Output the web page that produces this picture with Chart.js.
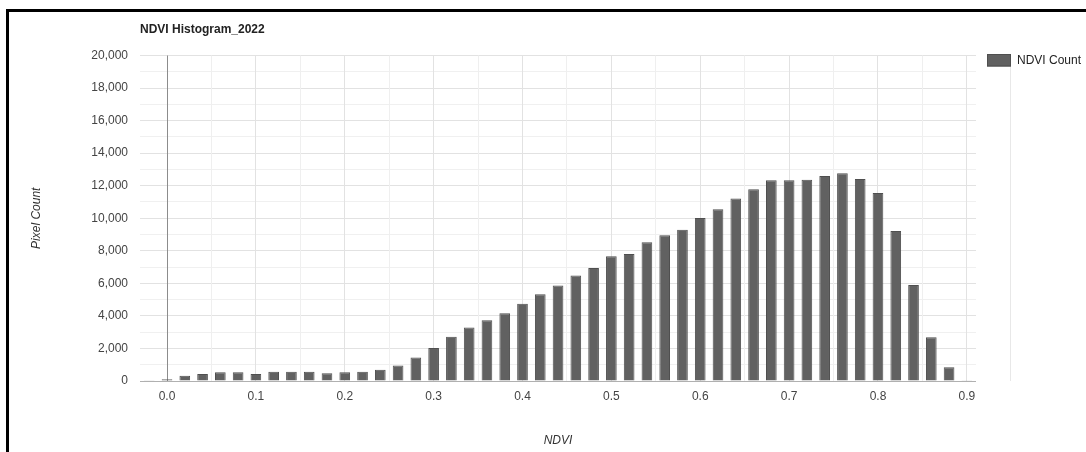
<!DOCTYPE html>
<html>
<head>
<meta charset="utf-8">
<title>NDVI Histogram_2022</title>
<script src="https://cdn.jsdelivr.net/npm/chart.js@4/dist/chart.umd.min.js"></script>
<style>
  html, body { margin: 0; padding: 0; background: #fff; }
  #wrap { position: relative; width: 1086px; height: 452px; overflow: hidden; }
  #wrap canvas { position: absolute; left: 0; top: 0; }
  #frame { position: absolute; left: 6px; top: 9px; right: -10px; bottom: -10px;
           border-left: 3px solid #000; border-top: 3px solid #000; pointer-events: none; }
</style>
</head>
<body>
<div id="wrap">
  <canvas id="chart" width="1086" height="452"></canvas>
  <div id="frame"></div>
</div>
<script>
// NDVI bin positions (bin value) and pixel counts per bin
const ndviBins = [
  -0.02, 0.00, 0.02, 0.04, 0.06, 0.08, 0.10, 0.12, 0.14, 0.16,
   0.18, 0.20, 0.22, 0.24, 0.26, 0.28, 0.30, 0.32, 0.34, 0.36,
   0.38, 0.40, 0.42, 0.44, 0.46, 0.48, 0.50, 0.52, 0.54, 0.56,
   0.58, 0.60, 0.62, 0.64, 0.66, 0.68, 0.70, 0.72, 0.74, 0.76,
   0.78, 0.80, 0.82, 0.84, 0.86, 0.88, 0.90
];
const pixelCounts = [
     40,   110,   330,   430,   530,   530,   430,   570,   570,   570,
    470,   530,   570,   690,   960,  1440,  2030,  2720,  3290,  3740,
   4170,  4750,  5330,  5870,  6490,  6950,  7670,  7800,  8520,  8950,
   9300, 10010, 10550, 11220, 11780, 12330, 12330, 12370, 12600, 12760,
  12410, 11550,  9220,  5900,  2690,   840,    40
];

// Axis grid positions: labelled every 0.1, minor lines halfway
const ndviTicks = [0.0, 0.05, 0.1, 0.15, 0.2, 0.25, 0.3, 0.35, 0.4, 0.45,
                   0.5, 0.55, 0.6, 0.65, 0.7, 0.75, 0.8, 0.85, 0.9];
const countMin = 0;
const countMax = 20000;
const countStep = 1000;

const seriesLabel = 'NDVI Count';
const chartTitle = 'NDVI Histogram_2022';

const FONT = '"Liberation Sans", Arial, Helvetica, sans-serif';
Chart.defaults.font.family = FONT;
Chart.defaults.font.size = 12;

const isTenth = v => Math.abs(v * 10 - Math.round(v * 10)) < 1e-6;

// Legend entry drawn to the right of the plot area
const sideLegend = {
  id: 'sideLegend',
  afterDraw(chart) {
    const { ctx, chartArea } = chart;
    const ds = chart.data.datasets[0];
    const x = chartArea.right + 11;
    const y = chartArea.top - 1.5;
    ctx.save();
    ctx.strokeStyle = '#e8e8e8';
    ctx.lineWidth = 1;
    ctx.beginPath();
    ctx.moveTo(x + 23.5, y + 12);
    ctx.lineTo(x + 23.5, chartArea.bottom);
    ctx.stroke();
    ctx.fillStyle = ds.backgroundColor;
    ctx.fillRect(x, y, 24, 12.5);
    ctx.strokeStyle = ds.borderColor;
    ctx.strokeRect(x + 0.5, y + 0.5, 23, 11.5);
    ctx.fillStyle = '#222';
    ctx.font = '12px ' + FONT;
    ctx.textBaseline = 'middle';
    ctx.textAlign = 'left';
    ctx.fillText(ds.label, x + 30, y + 6.5);
    ctx.restore();
  }
};

new Chart(document.getElementById('chart'), {
  type: 'bar',
  data: {
    datasets: [{
      label: seriesLabel,
      data: ndviBins.map((x, i) => ({ x: x, y: pixelCounts[i] })),
      backgroundColor: '#616161',
      borderColor: '#4f4f4f',
      borderWidth: 1,
      barPercentage: 0.6,
      categoryPercentage: 1.0
    }]
  },
  options: {
    responsive: false,
    animation: false,
    layout: { padding: { left: 20, right: 110, top: 10, bottom: 0 } },
    plugins: {
      legend: { display: false },
      tooltip: { enabled: false },
      title: {
        display: true,
        text: chartTitle,
        align: 'start',
        fullSize: false,
        color: '#222',
        font: { size: 12, weight: 'bold' },
        padding: { top: 12.3, bottom: 18.8 }
      }
    },
    scales: {
      x: {
        type: 'linear',
        offset: false,
        min: -0.0304,
        max: 0.9103,
        afterBuildTicks(scale) {
          scale.ticks = ndviTicks.map(v => ({ value: v }));
        },
        afterFit(scale) { scale.height = 71; },
        ticks: {
          autoSkip: false,
          maxRotation: 0,
          padding: 8.5,
          color: '#444',
          font: { size: 12 },
          callback: v => (isTenth(v) ? v.toFixed(1) : '')
        },
        grid: {
          z: -1,
          offset: false,
          drawTicks: false,
          lineWidth: 1,
          color: c => {
            const v = c.tick ? c.tick.value : null;
            if (v === null) return 'transparent';
            if (Math.abs(v) < 1e-9) return '#8c8c8c';
            return isTenth(v) ? '#e2e2e2' : '#efefef';
          }
        },
        border: { display: false },
        title: {
          display: true,
          text: 'NDVI',
          color: '#333',
          font: { size: 12, style: 'italic' },
          padding: { top: 0, bottom: 3.8 }
        }
      },
      y: {
        min: countMin,
        max: countMax,
        afterFit(scale) { scale.width = 120; },
        ticks: {
          stepSize: countStep,
          autoSkip: false,
          padding: 12,
          color: '#444',
          font: { size: 12 },
          callback: v => (v % 2000 === 0 ? v.toLocaleString('en-US') : '')
        },
        grid: {
          z: -2,
          drawTicks: false,
          lineWidth: 1,
          color: c => {
            const v = c.tick ? c.tick.value : null;
            if (v === null) return 'transparent';
            if (v === 0) return '#b0b0b0';
            return v % 2000 === 0 ? '#e2e2e2' : '#f0f0f0';
          }
        },
        border: { display: false },
        title: {
          display: true,
          text: 'Pixel Count',
          color: '#333',
          font: { size: 12, style: 'italic' },
          padding: { top: 9.5, bottom: 0 }
        }
      }
    }
  },
  plugins: [sideLegend]
});
</script>
</body>
</html>
